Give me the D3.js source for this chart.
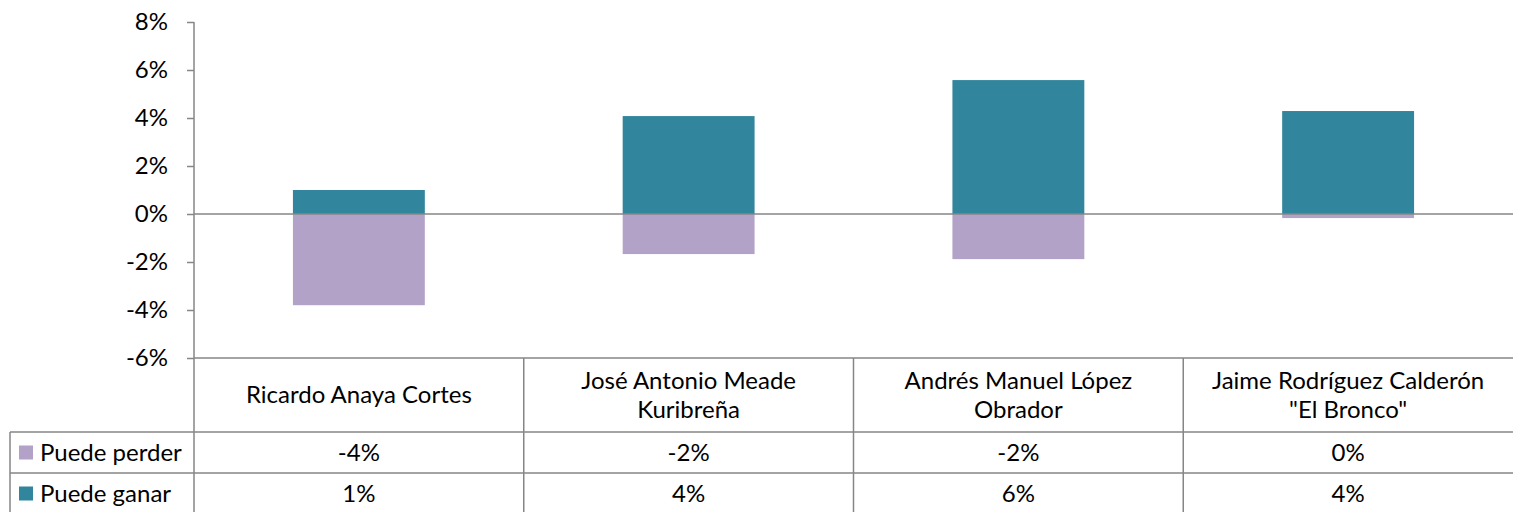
<!DOCTYPE html>
<html>
<head>
<meta charset="utf-8">
<script src="https://cdn.jsdelivr.net/npm/d3@7"></script>
<style>
  body { margin: 0; background: #fff; }
  svg { display: block; font-family: Lato, "Open Sans", sans-serif; }
</style>
</head>
<body>
<div id="chart"></div>
<script>
// candidates and the two series (fractions)
var candidates = [
  ["Ricardo Anaya Cortes"],
  ["José Antonio Meade", "Kuribreña"],
  ["Andrés Manuel López", "Obrador"],
  ["Jaime Rodríguez Calderón", "\"El Bronco\""]
];
var seriesNames = ["Puede perder", "Puede ganar"];
var puedePerder = [-0.038, -0.0167, -0.0188, -0.0017];
var puedeGanar = [0.010, 0.0408, 0.0558, 0.0429];
var yTicks = [-0.06, -0.04, -0.02, 0, 0.02, 0.04, 0.06, 0.08];

var colors = ["#b3a2c7", "#31859c"];
var gridColor = "#868686";
var fs = 24;

var W = 1513, H = 512;
var plotLeft = 194, plotRight = 1513, plotTop = 22, plotBottom = 358;
var row1 = 432, row2 = 473, tableBottom = 514, tableLeft = 10;

var svg = d3.select("#chart").append("svg")
  .attr("width", W).attr("height", H);

var x = d3.scaleBand()
  .domain(d3.range(candidates.length))
  .range([plotLeft, plotRight])
  .paddingInner(0).paddingOuter(0);

var y = d3.scaleLinear().domain([-0.06, 0.08]).range([plotBottom, plotTop]);

var fmt = function(d) { return d3.format(".0%")(d).replace("−", "-"); };

// y axis
var yAxis = d3.axisLeft(y).tickValues(yTicks).tickFormat(fmt).tickSize(7).tickPadding(19);
var ya = svg.append("g").attr("transform", "translate(" + plotLeft + ",0)").call(yAxis);
ya.select(".domain").remove();
ya.selectAll("line").attr("stroke", gridColor).attr("stroke-width", 1.5);
ya.selectAll("text").attr("font-size", fs).attr("fill", "#000").attr("font-family", "Lato, sans-serif");

// bars
var bw = x.bandwidth() * 0.4;
var series = [puedePerder, puedeGanar];
series.forEach(function(vals, s) {
  svg.append("g").selectAll("rect")
    .data(vals)
    .enter().append("rect")
    .attr("x", function(d, i) { return x(i) + (x.bandwidth() - bw) / 2; })
    .attr("width", bw)
    .attr("y", function(d) { return y(Math.max(0, d)); })
    .attr("height", function(d) { return Math.abs(y(d) - y(0)); })
    .attr("fill", colors[s]);
});

// zero line
svg.append("line")
  .attr("x1", plotLeft).attr("x2", plotRight)
  .attr("y1", y(0)).attr("y2", y(0))
  .attr("stroke", gridColor).attr("stroke-width", 1.5);

// vertical axis line, runs down through the table
svg.append("line")
  .attr("x1", plotLeft).attr("x2", plotLeft)
  .attr("y1", plotTop).attr("y2", tableBottom)
  .attr("stroke", gridColor).attr("stroke-width", 1.5);

// table grid
var hLines = [[plotLeft, plotBottom], [tableLeft, row1], [tableLeft, row2]];
svg.append("g").selectAll("line")
  .data(hLines)
  .enter().append("line")
  .attr("x1", function(d) { return d[0]; }).attr("x2", plotRight)
  .attr("y1", function(d) { return d[1]; }).attr("y2", function(d) { return d[1]; })
  .attr("stroke", gridColor).attr("stroke-width", 1.5);

svg.append("line")
  .attr("x1", tableLeft).attr("x2", tableLeft)
  .attr("y1", row1).attr("y2", tableBottom)
  .attr("stroke", gridColor).attr("stroke-width", 1.5);

svg.append("g").selectAll("line")
  .data(d3.range(1, candidates.length))
  .enter().append("line")
  .attr("x1", function(i) { return x(i); }).attr("x2", function(i) { return x(i); })
  .attr("y1", plotBottom).attr("y2", tableBottom)
  .attr("stroke", gridColor).attr("stroke-width", 1.5);

// category labels
var cat = svg.append("g").selectAll("text")
  .data(candidates)
  .enter().append("text")
  .attr("x", function(d, i) { return x(i) + x.bandwidth() / 2; })
  .attr("text-anchor", "middle")
  .attr("font-size", fs)
  .attr("fill", "#000");
cat.each(function(lines) {
  var t = d3.select(this);
  var y0 = (plotBottom + row1) / 2 - (lines.length - 1) * 14;
  lines.forEach(function(l, k) {
    t.append("tspan").attr("x", t.attr("x")).attr("y", y0 + k * 29).attr("dy", "0.35em").text(l);
  });
});

// data rows
var rowY = [(row1 + row2) / 2, (row2 + tableBottom) / 2];
series.forEach(function(vals, s) {
  svg.append("rect")
    .attr("x", 19).attr("y", rowY[s] - 7)
    .attr("width", 14).attr("height", 14)
    .attr("fill", colors[s]);
  svg.append("text")
    .attr("x", 40).attr("y", rowY[s]).attr("dy", "0.35em")
    .attr("font-size", fs).attr("fill", "#000")
    .text(seriesNames[s]);
  svg.append("g").selectAll("text")
    .data(vals)
    .enter().append("text")
    .attr("x", function(d, i) { return x(i) + x.bandwidth() / 2; })
    .attr("y", rowY[s]).attr("dy", "0.35em")
    .attr("text-anchor", "middle")
    .attr("font-size", fs).attr("fill", "#000")
    .text(fmt);
});
</script>
</body>
</html>
